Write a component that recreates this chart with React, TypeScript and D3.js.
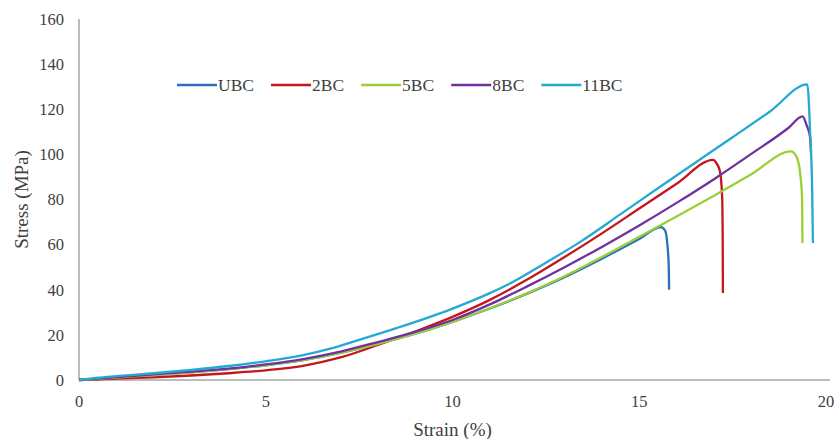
import React, { useEffect, useRef } from 'react';
import * as d3 from 'd3';

// strain (%), stress (MPa)
const seriesNames = ['UBC', '2BC', '5BC', '8BC', '11BC'];
const seriesColors = ['#2A70B8', '#C4161C', '#9BCF3A', '#7030A0', '#23A9D2'];

const ubc: [number, number][] = [
  [0, 0], [1, 1.1], [2, 2.2], [3, 3.4], [4, 4.8], [5, 6.5], [6, 8.8],
  [7, 12], [8, 16], [9, 20.5], [10, 25.8], [11, 31.7], [12, 38.3],
  [13, 45.6], [14, 53.8], [15, 62.5], [15.58, 67.8],
  [15.69, 66.3], [15.75, 60.6], [15.79, 50.2], [15.8, 40],
];
const bc2: [number, number][] = [
  [0, 0], [1, 0.6], [2, 1.2], [3, 2], [4, 3], [5, 4.3], [6, 6.3], [7, 10],
  [8, 15.5], [9, 21.5], [10, 28], [11, 35.5], [12, 44.5], [13, 54.5],
  [14, 65], [15, 76], [16, 87], [16.98, 97.6],
  [17.07, 96], [17.16, 92.5], [17.22, 81], [17.235, 60], [17.24, 38.6],
];
const bc5: [number, number][] = [
  [0, 0], [1, 1.1], [2, 2.2], [3, 3.4], [4, 4.8], [5, 6.5], [6, 8.8],
  [7, 12], [8, 16], [9, 20.5], [10, 25.8], [11, 31.8], [12, 38.5],
  [13, 46], [14, 54.5], [15, 63.5], [16, 72.5], [17, 81.7], [18, 91.2],
  [19.06, 101.3], [19.21, 99], [19.32, 90], [19.36, 80], [19.37, 60.7],
];
const bc8: [number, number][] = [
  [0, 0], [1, 1.3], [2, 2.5], [3, 3.7], [4, 5], [5, 6.9], [6, 9.3],
  [7, 12.6], [8, 16.8], [9, 21.3], [10, 26.6], [11, 33.5], [12, 41.5],
  [13, 50], [14, 59], [15, 68.5], [16, 78.5], [17, 89], [18, 100.2],
  [19, 111.8], [19.37, 116.8], [19.48, 113], [19.57, 108], [19.6, 101],
];
const bc11: [number, number][] = [
  [0, 0], [0.5, 1], [1, 1.7], [2, 3], [3, 4.5], [4, 6.2], [5, 8.3],
  [6, 11], [6.7, 13.8], [7.5, 17.8], [8.5, 23], [9.9, 31], [11, 38.5],
  [11.6, 43.3], [12.5, 52], [13.4, 61], [14.5, 73.5], [15.5, 85],
  [16.5, 96.3], [17.5, 107.6], [18.5, 119], [19.5, 131],
  [19.58, 107.7], [19.63, 84], [19.65, 60.7],
];
const allSeries = [ubc, bc2, bc5, bc8, bc11];

const xTicks = [0, 5, 10, 15, 20];
const yTicks = [0, 20, 40, 60, 80, 100, 120, 140, 160];

const App = () => {
  const ref = useRef<SVGSVGElement | null>(null);

  useEffect(() => {
    const svg = d3.select(ref.current);
    svg.selectAll('*').remove();

    const font = '"Liberation Serif", "Times New Roman", serif';
    const textColor = '#404040';
    const axisColor = '#A6A6A6';

    const x = d3.scaleLinear().domain([0, 20]).range([79, 826]);
    const y = d3.scaleLinear().domain([0, 160]).range([380, 19]);

    // axes
    svg.append('line')
      .attr('x1', x(0)).attr('x2', x(0))
      .attr('y1', y(160)).attr('y2', y(0))
      .attr('stroke', axisColor).attr('stroke-width', 1.5);
    svg.append('line')
      .attr('x1', x(0)).attr('x2', 830)
      .attr('y1', y(0)).attr('y2', y(0))
      .attr('stroke', axisColor).attr('stroke-width', 1.5);

    svg.selectAll('.ytick')
      .data(yTicks)
      .enter()
      .append('text')
      .attr('x', 64)
      .attr('y', d => y(d))
      .attr('dy', '0.35em')
      .attr('text-anchor', 'end')
      .attr('font-family', font)
      .attr('font-size', 16.5)
      .attr('fill', textColor)
      .text(d => d);

    svg.selectAll('.xtick')
      .data(xTicks)
      .enter()
      .append('text')
      .attr('x', d => x(d))
      .attr('y', 407)
      .attr('text-anchor', 'middle')
      .attr('font-family', font)
      .attr('font-size', 16.5)
      .attr('fill', textColor)
      .text(d => d);

    svg.append('text')
      .attr('transform', `translate(28, ${(y(0) + y(160)) / 2}) rotate(-90)`)
      .attr('text-anchor', 'middle')
      .attr('font-family', font)
      .attr('font-size', 19)
      .attr('fill', textColor)
      .text('Stress (MPa)');

    svg.append('text')
      .attr('x', (x(0) + x(20)) / 2)
      .attr('y', 436)
      .attr('text-anchor', 'middle')
      .attr('font-family', font)
      .attr('font-size', 19)
      .attr('fill', textColor)
      .text('Strain (%)');

    // curves
    const line = d3.line<[number, number]>()
      .x(d => x(d[0]))
      .y(d => y(d[1]))
      .curve(d3.curveMonotoneX);

    allSeries.forEach((s, i) => {
      svg.append('path')
        .datum(s)
        .attr('d', line)
        .attr('fill', 'none')
        .attr('stroke', seriesColors[i])
        .attr('stroke-width', 2.3)
        .attr('stroke-linejoin', 'round');
    });

    // legend
    let lx = 177;
    const ly = 85;
    seriesNames.forEach((name, i) => {
      svg.append('line')
        .attr('x1', lx).attr('x2', lx + 40)
        .attr('y1', ly).attr('y2', ly)
        .attr('stroke', seriesColors[i]).attr('stroke-width', 2.3);
      const t = svg.append('text')
        .attr('x', lx + 41)
        .attr('y', ly + 6)
        .attr('font-family', font)
        .attr('font-size', 17.5)
        .attr('fill', textColor)
        .text(name);
      const w = (t.node() as SVGTextElement).getComputedTextLength();
      lx += 41 + w + 17;
    });
  }, []);

  return (
    <div className="App">
      <svg
        ref={ref}
        width={837}
        height={439}
        style={{ position: 'absolute', left: 0, top: 0, background: '#fff' }}
      ></svg>
    </div>
  );
};

export default App;
